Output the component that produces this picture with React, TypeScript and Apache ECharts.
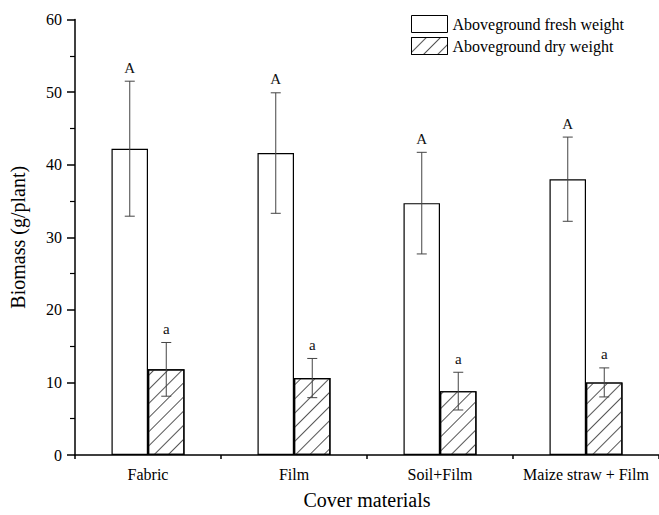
import React, { useEffect, useRef } from "react";
import * as echarts from "echarts";

const categories = ["Fabric", "Film", "Soil+Film", "Maize straw + Film"];
const freshWeight = [42.2, 41.6, 34.7, 38.0];
const freshError = [9.3, 8.3, 7.0, 5.8];
const freshLetters = ["A", "A", "A", "A"];
const dryWeight = [11.8, 10.6, 8.8, 10.0];
const dryError = [3.7, 2.7, 2.6, 2.0];
const dryLetters = ["a", "a", "a", "a"];
const seriesNames = ["Aboveground fresh weight", "Aboveground dry weight"];
const yMin = 0;
const yMax = 60;
const yInterval = 10;

const FONT = "'Liberation Serif', 'Times New Roman', serif";

function errorSeries(means: number[], errs: number[], letters: string[], side: number) {
  return {
    type: "custom",
    xAxisIndex: 0,
    yAxisIndex: 0,
    z: 10,
    silent: true,
    data: means.map((m, i) => [i, m, errs[i]]),
    renderItem: (params: any, api: any) => {
      const i = api.value(0);
      const m = api.value(1);
      const e = api.value(2);
      const band = api.size([1, 0])[0];
      const off = side * band * 0.125;
      const top = api.coord([i, m + e]);
      const bot = api.coord([i, m - e]);
      const x = top[0] + off;
      const cap = 5;
      const st = { stroke: "#444", lineWidth: 1 };
      return {
        type: "group",
        children: [
          { type: "line", shape: { x1: x, y1: top[1], x2: x, y2: bot[1] }, style: st },
          { type: "line", shape: { x1: x - cap, y1: top[1], x2: x + cap, y2: top[1] }, style: st },
          { type: "line", shape: { x1: x - cap, y1: bot[1], x2: x + cap, y2: bot[1] }, style: st },
          {
            type: "text",
            x: x,
            y: top[1] - 6,
            style: {
              text: letters[params.dataIndex],
              fontSize: 15,
              fontFamily: FONT,
              fill: "#111",
              align: "center",
              verticalAlign: "bottom",
              textAlign: "center",
              textVerticalAlign: "bottom",
            },
          },
        ],
      };
    },
  };
}

export default function App() {
  const ref = useRef<HTMLDivElement>(null);
  useEffect(() => {
    if (!ref.current) return;
    const chart = echarts.init(ref.current, null, { renderer: "svg" });
    chart.setOption({
      animation: false,
      backgroundColor: "#fff",
      textStyle: { fontFamily: FONT, color: "#000" },
      grid: { left: 75, right: 0, top: 19.5, bottom: 58, containLabel: false },
      legend: {
        data: seriesNames,
        orient: "vertical",
        left: 406,
        top: 10,
        itemWidth: 36,
        itemHeight: 17,
        itemGap: 4,
        icon: "rect",
        textStyle: { fontSize: 16, fontFamily: FONT, color: "#000" },
        itemStyle: { borderColor: "#000", borderWidth: 1 },
      },
      xAxis: [
        {
          type: "category",
          data: categories,
          position: "bottom",
          axisLine: { lineStyle: { color: "#000", width: 1.5 } },
          axisTick: { alignWithLabel: true, length: 7, lineStyle: { color: "#000", width: 1.5 } },
          axisLabel: { interval: 0, fontSize: 16, fontFamily: FONT, color: "#000", margin: 11 },
          name: "Cover materials",
          nameLocation: "middle",
          nameGap: 35,
          nameTextStyle: { fontSize: 20, fontFamily: FONT, color: "#000" },
          splitLine: { show: false },
        },
        {
          type: "category",
          data: categories,
          position: "bottom",
          axisLine: { show: false },
          axisTick: { show: true, interval: 0, length: 4, lineStyle: { color: "#000", width: 1.5 } },
          axisLabel: { show: false },
          splitLine: { show: false },
        },
      ],
      yAxis: {
        type: "value",
        min: yMin,
        max: yMax,
        interval: yInterval,
        axisLine: { show: true, lineStyle: { color: "#000", width: 1.5 } },
        axisTick: { show: true, length: 8, lineStyle: { color: "#000", width: 1.5 } },
        minorTick: { show: true, splitNumber: 2, length: 5, lineStyle: { color: "#000", width: 1.2 } },
        splitLine: { show: false },
        minorSplitLine: { show: false },
        axisLabel: { fontSize: 16, fontFamily: FONT, color: "#000", margin: 13 },
        name: "Biomass (g/plant)",
        nameLocation: "middle",
        nameGap: 47,
        nameTextStyle: { fontSize: 20, fontFamily: FONT, color: "#000" },
      },
      series: [
        {
          name: seriesNames[0],
          type: "bar",
          data: freshWeight,
          barWidth: "25%",
          barGap: "0%",
          itemStyle: { color: "#fff", borderColor: "#000", borderWidth: 1.2 },
        },
        {
          name: seriesNames[1],
          type: "bar",
          data: dryWeight,
          barWidth: "25%",
          barGap: "0%",
          itemStyle: {
            color: "#fff",
            borderColor: "#000",
            borderWidth: 1.2,
            decal: {
              symbol: "rect",
              symbolSize: 1,
              dashArrayX: [1, 0],
              dashArrayY: [1, 9],
              rotation: -Math.PI / 4,
              color: "#555",
            },
          },
        },
        errorSeries(freshWeight, freshError, freshLetters, -1),
        errorSeries(dryWeight, dryError, dryLetters, 1),
      ],
    });
    return () => chart.dispose();
  }, []);
  return (
    <div
      ref={ref}
      style={{ position: "absolute", left: 0, top: 0, width: 659, height: 515 }}
    />
  );
}
